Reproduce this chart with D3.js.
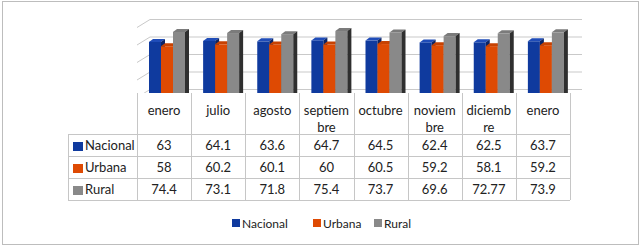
<!DOCTYPE html>
<html>
<head>
    <meta charset="utf-8">
    <title>Nacional / Urbana / Rural</title>
    <script src="https://d3js.org/d3.v7.min.js"></script>
    <style>
        body { margin: 0; background: #fff; }
        text { font-family: Lato, "Open Sans", sans-serif; font-size: 13px; fill: #222; }
        .legend text { font-size: 12px; }
    </style>
</head>
<body>
    <div id="chart"></div>

    <script>
        // datos
        const categories = ["enero", "julio", "agosto", "septiembre", "octubre", "noviembre", "diciembre", "enero"];
        const headerLines = [["enero"], ["julio"], ["agosto"], ["septiem", "bre"], ["octubre"], ["noviem", "bre"], ["diciemb", "re"], ["enero"]];
        const seriesNames = ["Nacional", "Urbana", "Rural"];
        const nacional = [63, 64.1, 63.6, 64.7, 64.5, 62.4, 62.5, 63.7];
        const urbana = [58, 60.2, 60.1, 60, 60.5, 59.2, 58.1, 59.2];
        const rural = [74.4, 73.1, 71.8, 75.4, 73.7, 69.6, 72.77, 73.9];
        const valueLabels = [
            ["63", "64.1", "63.6", "64.7", "64.5", "62.4", "62.5", "63.7"],
            ["58", "60.2", "60.1", "60", "60.5", "59.2", "58.1", "59.2"],
            ["74.4", "73.1", "71.8", "75.4", "73.7", "69.6", "72.77", "73.9"]
        ];
        const yTicks = [0, 20, 40, 60, 80];

        const series = [nacional, urbana, rural];
        const colors = [
            {front: "#0f3a9e", top: "#1f4cb8", side: "#0a2466"},
            {front: "#de4a03", top: "#c74202", side: "#8c2e00"},
            {front: "#898989", top: "#7b7b7b", side: "#2f2f2f"}
        ];

        const W = 642, H = 248;
        const depth = {dx: 13, dy: -8};   // pared del fondo
        const bar3d = {dx: 4, dy: -3};    // profundidad de cada barra
        const tableTop = 93, rowH = 22, headerH = 41;
        const labelLeft = 68;

        const svg = d3.select("#chart")
            .append("svg")
            .attr("width", W)
            .attr("height", H);

        // marco exterior
        svg.append("rect")
            .attr("x", 2.5).attr("y", 1.5)
            .attr("width", 636).attr("height", 243)
            .attr("fill", "#fff")
            .attr("stroke", "#bdbdbd");

        const x = d3.scaleBand()
            .domain(d3.range(categories.length))
            .range([137, 570]);

        const xs = d3.scaleBand()
            .domain(d3.range(seriesNames.length))
            .range([12, 48]);

        const y = d3.scaleLinear()
            .domain([0, 80])
            .range([97, 27]);

        // recorte para que la tabla tape la base
        svg.append("clipPath").attr("id", "clip")
            .append("rect").attr("x", 0).attr("y", 0).attr("width", W).attr("height", tableTop);

        const plot = svg.append("g").attr("clip-path", "url(#clip)");

        // lineas de division (pared del fondo + lateral)
        const grid = plot.append("g").attr("stroke", "#c9c9c9").attr("fill", "none");
        yTicks.forEach(t => {
            const x0 = x.range()[0], yf = y(t);
            grid.append("path")
                .attr("d", `M${x0},${yf + 0.5}L${x0 + depth.dx},${yf + depth.dy + 0.5}H582`);
        });

        // barras 3D
        categories.forEach((c, i) => {
            series.forEach((s, k) => {
                const v = s[i];
                const bx = x(i) + xs(k);
                const bw = xs.bandwidth();
                const top = y(v), bottom = y(0);
                const col = colors[k];
                const g = plot.append("g");
                // cara frontal
                g.append("rect")
                    .attr("x", bx).attr("y", top)
                    .attr("width", bw).attr("height", bottom - top)
                    .attr("fill", col.front);
                // cara superior
                g.append("path")
                    .attr("d", `M${bx},${top}L${bx + bar3d.dx},${top + bar3d.dy}H${bx + bw + bar3d.dx}L${bx + bw},${top}Z`)
                    .attr("fill", col.top);
                // cara lateral
                g.append("path")
                    .attr("d", `M${bx + bw},${top}L${bx + bw + bar3d.dx},${top + bar3d.dy}V${bottom + bar3d.dy}L${bx + bw},${bottom}Z`)
                    .attr("fill", col.side);
            });
        });

        // tabla de datos
        const table = svg.append("g");
        const lineColor = "#c6c6c6";
        const tableBottom = tableTop + headerH + rowH * 3;
        const x0 = x.range()[0], x1 = x.range()[1];

        // lineas horizontales
        for (let r = 0; r <= 3; r++) {
            const yy = tableTop + headerH + r * rowH + 0.5;
            table.append("line")
                .attr("x1", labelLeft).attr("x2", x1)
                .attr("y1", yy).attr("y2", yy)
                .attr("stroke", lineColor);
        }
        // lineas verticales
        d3.range(categories.length + 1).forEach(i => {
            const xx = Math.round(x0 + i * x.bandwidth()) + 0.5;
            table.append("line")
                .attr("x1", xx).attr("x2", xx)
                .attr("y1", tableTop).attr("y2", tableBottom)
                .attr("stroke", lineColor);
        });
        table.append("line")
            .attr("x1", labelLeft + 0.5).attr("x2", labelLeft + 0.5)
            .attr("y1", tableTop + headerH).attr("y2", tableBottom)
            .attr("stroke", lineColor);

        // encabezados
        headerLines.forEach((lines, i) => {
            lines.forEach((ln, j) => {
                table.append("text")
                    .attr("x", x(i) + x.bandwidth() / 2)
                    .attr("y", 115 + j * 17)
                    .attr("text-anchor", "middle")
                    .text(ln);
            });
        });

        // filas
        seriesNames.forEach((name, k) => {
            const rowY = tableTop + headerH + k * rowH;
            table.append("rect")
                .attr("x", 73).attr("y", rowY + 8)
                .attr("width", 10).attr("height", 9)
                .attr("fill", colors[k].front);
            table.append("text")
                .attr("x", 85).attr("y", rowY + 16)
                .text(name);
            valueLabels[k].forEach((v, i) => {
                table.append("text")
                    .attr("x", x(i) + x.bandwidth() / 2)
                    .attr("y", rowY + 16)
                    .attr("text-anchor", "middle")
                    .text(v);
            });
        });

        // leyenda
        const legend = svg.append("g").attr("class", "legend").attr("transform", "translate(0,223)");
        const legendX = [232, 313, 374];
        seriesNames.forEach((name, k) => {
            legend.append("rect")
                .attr("x", legendX[k]).attr("y", -4)
                .attr("width", 8).attr("height", 8)
                .attr("fill", colors[k].front);
            legend.append("text")
                .attr("x", legendX[k] + 10).attr("y", 4.5)
                .text(name);
        });
    </script>
</body>
</html>
